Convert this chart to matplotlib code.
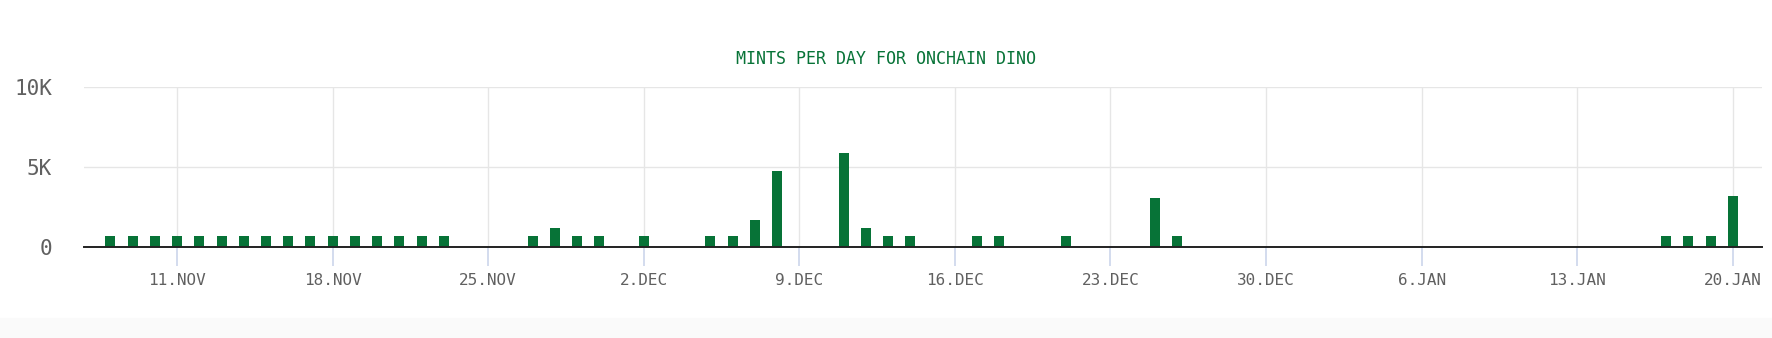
"""
Bar chart of the daily mint counts for Onchain Dino.
"""

import matplotlib
matplotlib.use("Agg")
import matplotlib.pyplot as plt
import matplotlib.dates as mdates
import matplotlib.patches as patches
import pandas as pd


# Data (one value per day)
startDate = "2022-11-08"
endDate = "2023-01-20"
mints = [
    680, 680, 680, 680, 680, 680, 680, 680,      # 8 - 15 Nov
    680, 680, 680, 680, 680, 680, 680, 680,      # 16 - 23 Nov
    0, 0, 0, 680, 1170, 680, 680,                # 24 - 30 Nov
    0, 680, 0, 0, 680, 680, 1670, 4720,          # 1 - 8 Dec
    0, 0, 5890, 1170, 680, 680, 0, 0,            # 9 - 16 Dec
    680, 680, 0, 0, 680, 0, 0, 0,                # 17 - 24 Dec
    3090, 680, 0, 0, 0, 0, 0,                    # 25 - 31 Dec
    0, 0, 0, 0, 0, 0, 0, 0,                      # 1 - 8 Jan
    0, 0, 0, 0, 0, 0, 0, 0,                      # 9 - 16 Jan
    680, 680, 680, 3190,                         # 17 - 20 Jan
]
tickDates = ["2022-11-11", "2022-11-18", "2022-11-25", "2022-12-02",
             "2022-12-09", "2022-12-16", "2022-12-23", "2022-12-30",
             "2023-01-06", "2023-01-13", "2023-01-20"]
yTicks = [0, 5000, 10000]
yLabels = ["0", "5K", "10K"]
title = "MINTS PER DAY FOR ONCHAIN DINO"

GREEN = "#077337"
GREY_TEXT = "#606060"
GRID = "#e6e6e6"
TICK = "#ccd6eb"
FONT = "DejaVu Sans Mono"


def plotMints():
    """
    Draws the daily mints as thin green bars on a weekly date axis.
    """
    days = pd.date_range(startDate, endDate, freq="D")
    fig = plt.figure(figsize=(17.72, 3.38), dpi=100)
    fig.patch.set_facecolor("white")

    # faint grey strip along the bottom of the card
    fig.patches.append(patches.Rectangle((0, 0), 1, 0.06,
                                         transform=fig.transFigure,
                                         color="#fafafa", zorder=-1))

    ax = fig.add_axes([0.0474, 0.2692, 0.9470, 0.4734])
    ax.bar(days, mints, width=0.45, color=GREEN, linewidth=0, zorder=3)

    # Axis limits
    ax.set_ylim(0, 10000)
    ax.set_xlim(mdates.date2num(pd.Timestamp("2022-11-06 19:30")),
                mdates.date2num(pd.Timestamp("2023-01-21 07:40")))

    # Y axis
    ax.set_yticks(yTicks)
    ax.set_yticklabels(yLabels)
    ax.tick_params(axis="y", length=0, pad=23, labelsize=15,
                   labelcolor=GREY_TEXT)

    # X axis
    ticks = pd.to_datetime(tickDates)
    ax.set_xticks(ticks)
    ax.set_xticklabels([t.strftime("%-d.%b").upper() for t in ticks])
    ax.tick_params(axis="x", length=14, width=1.2, color=TICK, pad=5,
                   labelsize=11.5, labelcolor=GREY_TEXT)

    for label in ax.get_xticklabels() + ax.get_yticklabels():
        label.set_family(FONT)

    # Grid and spines
    ax.grid(True, color=GRID, linewidth=1, zorder=0)
    for side in ["top", "right", "left"]:
        ax.spines[side].set_visible(False)
    ax.spines["bottom"].set_color("#222222")
    ax.spines["bottom"].set_linewidth(1.4)
    ax.spines["bottom"].set_zorder(4)

    fig.text(0.5, 0.826, title, ha="center", va="center", fontsize=12,
             color=GREEN, family=FONT)

    fig.savefig("out.png", dpi=100)


def main():
    plotMints()


if __name__ == "__main__":
    main()
